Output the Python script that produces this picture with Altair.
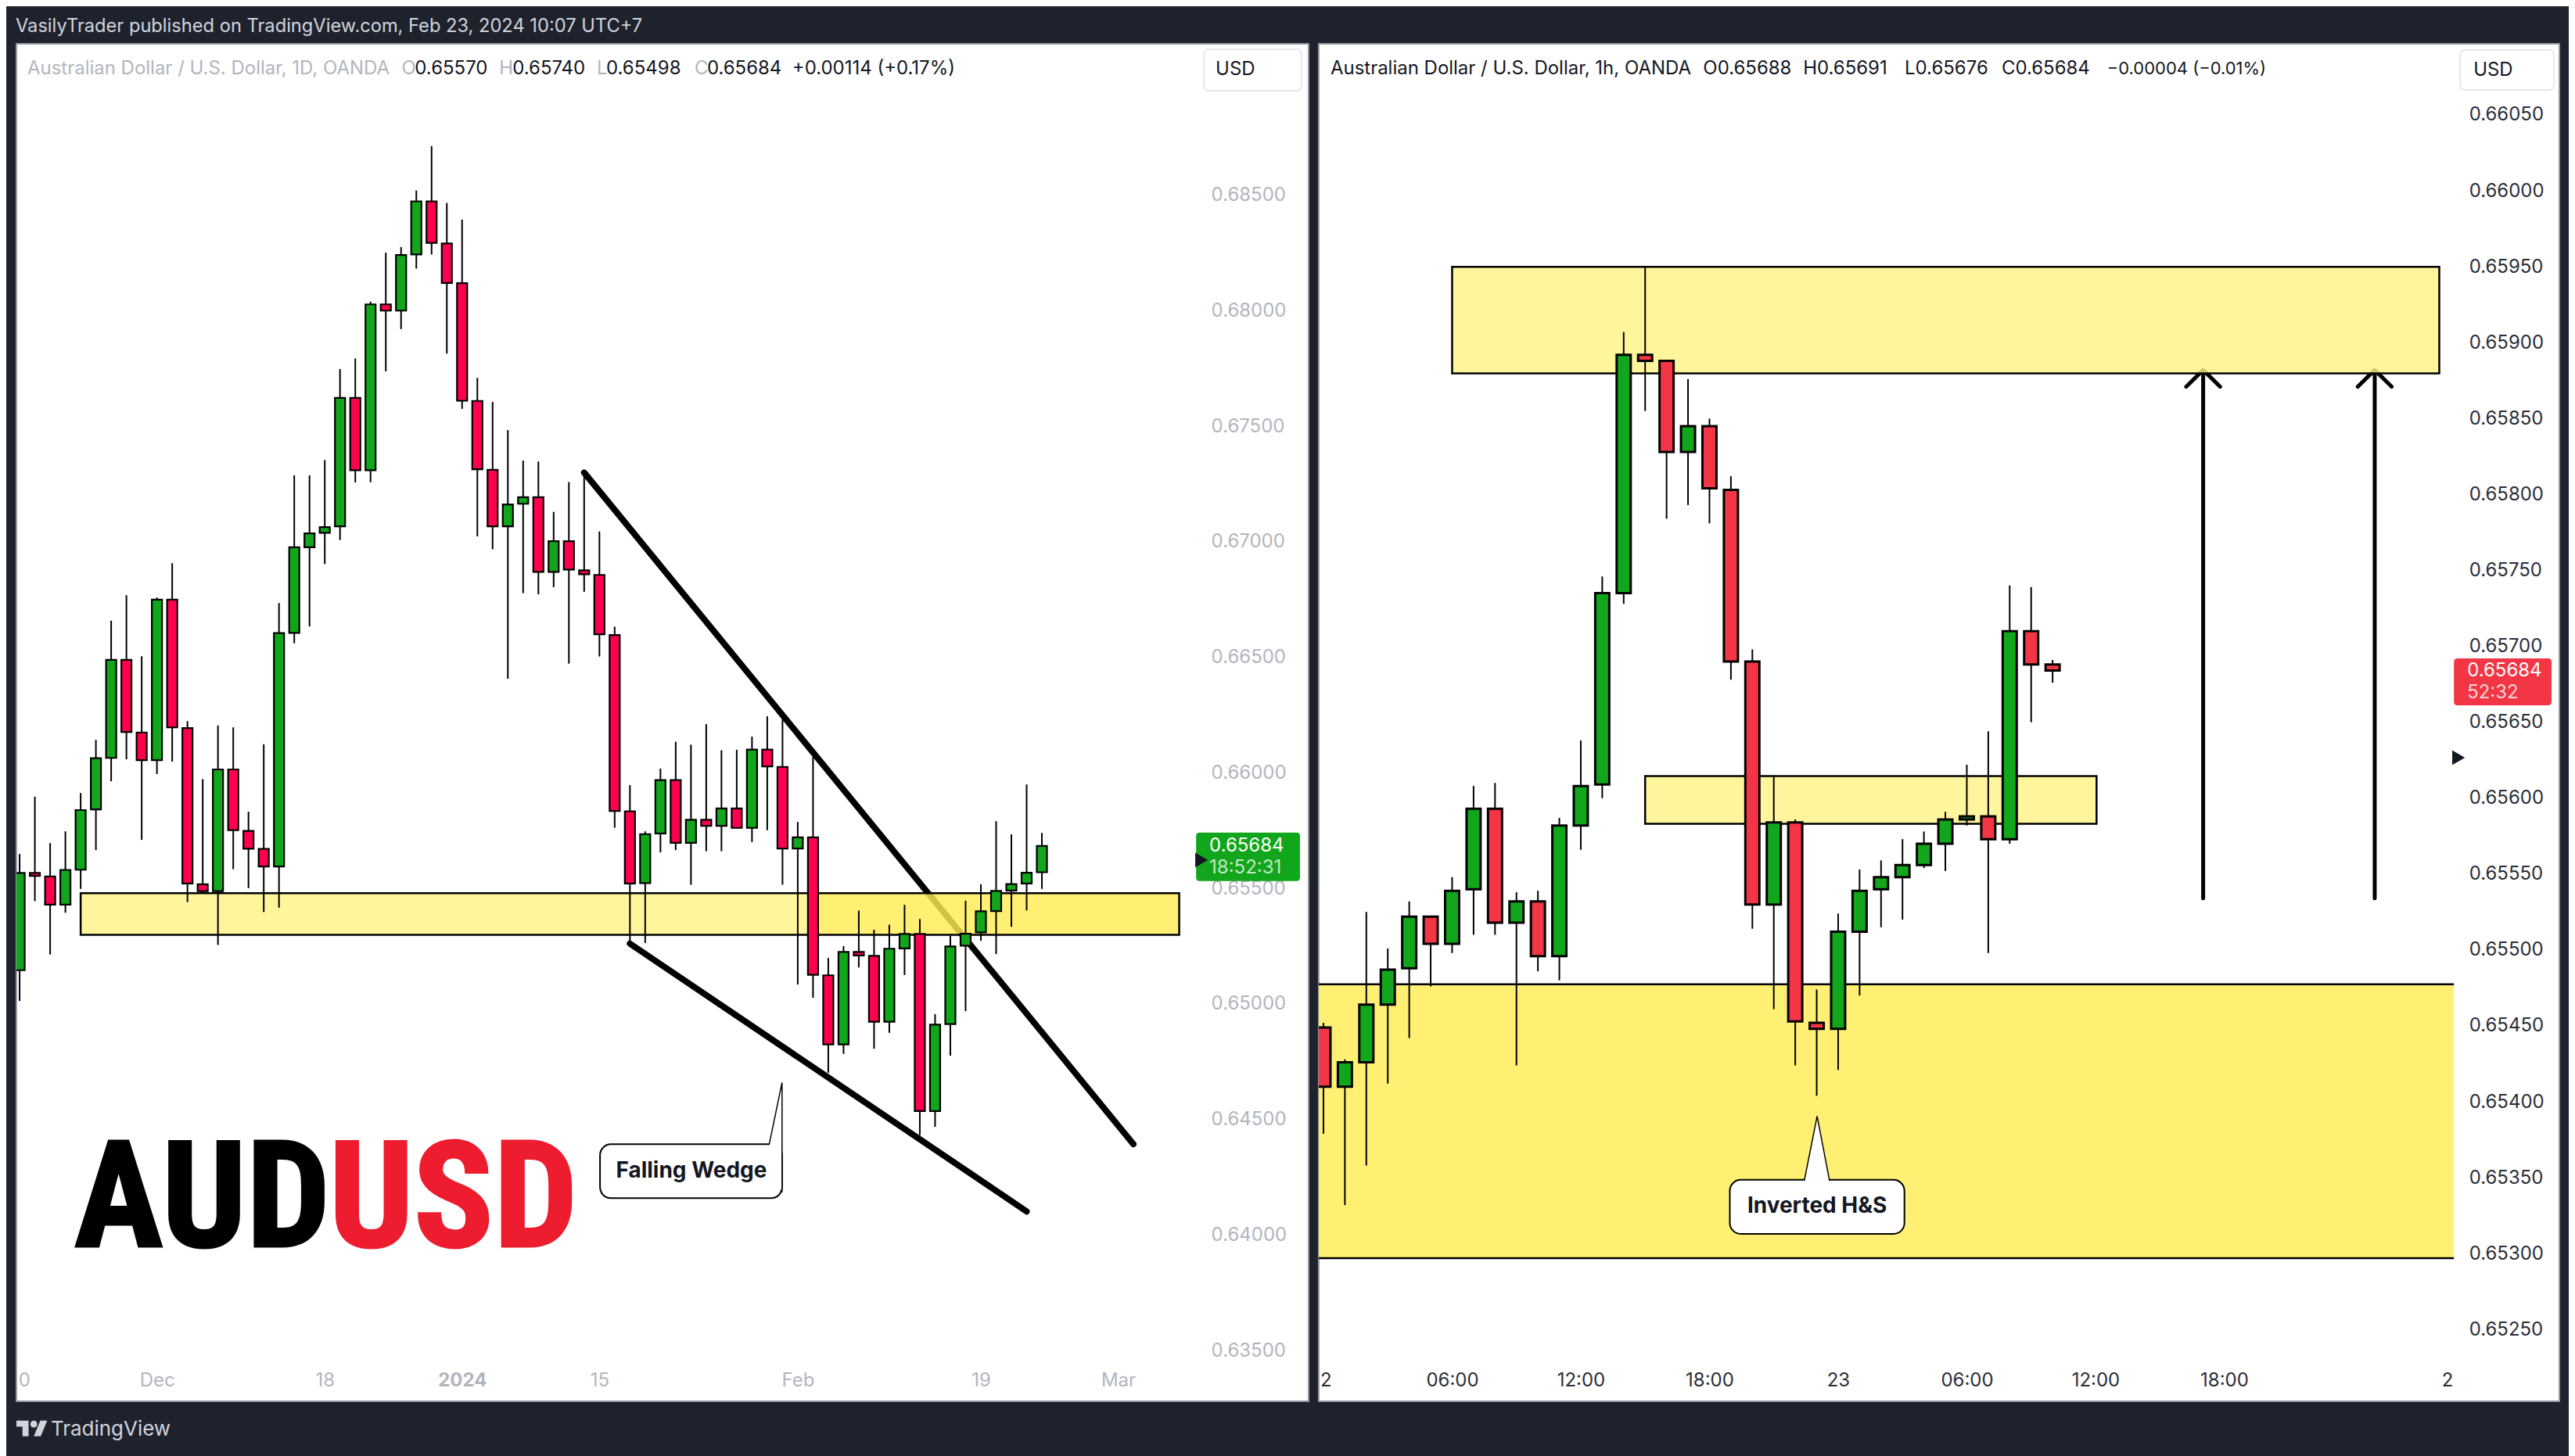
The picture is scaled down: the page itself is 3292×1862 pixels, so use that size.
import altair as alt
import pandas as pd

# daily candles
d_open = [0.65146, 0.65567, 0.65552, 0.65430, 0.65581, 0.65842, 0.66065, 0.66489, 0.66175, 0.66055,
          0.66750, 0.66194, 0.65518, 0.65488, 0.66015, 0.65749, 0.65671, 0.65595, 0.66606, 0.66977,
          0.67039, 0.67067, 0.67623, 0.67310, 0.68028, 0.68001, 0.68244, 0.68474, 0.68292, 0.68120,
          0.67610, 0.67312, 0.67067, 0.67165, 0.67193, 0.66870, 0.67003, 0.66877, 0.66857, 0.66597,
          0.65834, 0.65523, 0.65738, 0.65969, 0.65697, 0.65797, 0.65771, 0.65846, 0.65762, 0.66101,
          0.66026, 0.65673, 0.65721, 0.65124, 0.64825, 0.65225, 0.65208, 0.64923, 0.65240, 0.65303,
          0.64536, 0.64913, 0.65252, 0.65310, 0.65402, 0.65491, 0.65521, 0.65570]
d_high = [0.65649, 0.65897, 0.65696, 0.65747, 0.65913, 0.66143, 0.66659, 0.66769, 0.66505, 0.66759,
          0.66908, 0.66224, 0.65973, 0.66205, 0.66197, 0.65832, 0.66124, 0.66735, 0.67288, 0.67288,
          0.67354, 0.67748, 0.67794, 0.68040, 0.68252, 0.68276, 0.68521, 0.68713, 0.68467, 0.68395,
          0.67710, 0.67606, 0.67484, 0.67352, 0.67348, 0.67130, 0.67259, 0.67293, 0.67045, 0.66633,
          0.65947, 0.65747, 0.66019, 0.66135, 0.66122, 0.66211, 0.66098, 0.66100, 0.66157, 0.66245,
          0.66232, 0.65788, 0.66068, 0.65199, 0.65250, 0.65404, 0.65321, 0.65343, 0.65429, 0.65368,
          0.64956, 0.65296, 0.65447, 0.65518, 0.65791, 0.65734, 0.65950, 0.65740]
d_low = [0.65013, 0.65445, 0.65214, 0.65395, 0.65498, 0.65666, 0.65964, 0.66059, 0.65710, 0.65995,
         0.66049, 0.65441, 0.65477, 0.65255, 0.65583, 0.65501, 0.65398, 0.65417, 0.66561, 0.66634,
         0.66904, 0.67008, 0.67257, 0.67258, 0.67738, 0.67921, 0.68183, 0.68244, 0.67815, 0.67576,
         0.67024, 0.66968, 0.66408, 0.66778, 0.66773, 0.66804, 0.66473, 0.66784, 0.66504, 0.65763,
         0.65262, 0.65264, 0.65656, 0.65666, 0.65516, 0.65661, 0.65661, 0.65762, 0.65701, 0.65752,
         0.65516, 0.65084, 0.65027, 0.64702, 0.64784, 0.65158, 0.64806, 0.64875, 0.65125, 0.64432,
         0.64468, 0.64776, 0.64969, 0.65273, 0.65216, 0.65334, 0.65405, 0.65498]
d_close = [0.65567, 0.65554, 0.65430, 0.65580, 0.65839, 0.66064, 0.66489, 0.66177, 0.66055, 0.66750,
           0.66197, 0.65521, 0.65488, 0.66015, 0.65752, 0.65672, 0.65595, 0.66605, 0.66977, 0.67037,
           0.67064, 0.67623, 0.67310, 0.68028, 0.68001, 0.68242, 0.68474, 0.68294, 0.68121, 0.67611,
           0.67314, 0.67067, 0.67162, 0.67193, 0.66870, 0.67003, 0.66880, 0.66860, 0.66600, 0.65835,
           0.65521, 0.65735, 0.65969, 0.65697, 0.65797, 0.65771, 0.65846, 0.65762, 0.66101, 0.66028,
           0.65673, 0.65721, 0.65126, 0.64825, 0.65225, 0.65210, 0.64923, 0.65239, 0.65303, 0.64536,
           0.64910, 0.65249, 0.65304, 0.65401, 0.65489, 0.65519, 0.65568, 0.65684]

# hourly candles
h_open = [0.65449, 0.65410, 0.65426, 0.65464, 0.65488, 0.65522, 0.65504, 0.65540, 0.65593, 0.65518,
          0.65532, 0.65496, 0.65582, 0.65609, 0.65735, 0.65892, 0.65888, 0.65828, 0.65845, 0.65803,
          0.65690, 0.65530, 0.65584, 0.65452, 0.65448, 0.65512, 0.65540, 0.65548, 0.65556, 0.65570,
          0.65586, 0.65588, 0.65573, 0.65710, 0.65688]
h_high = [0.65452, 0.65428, 0.65525, 0.65501, 0.65532, 0.65522, 0.65548, 0.65608, 0.65610, 0.65538,
          0.65539, 0.65587, 0.65638, 0.65746, 0.65907, 0.65950, 0.65888, 0.65876, 0.65850, 0.65812,
          0.65698, 0.65615, 0.65586, 0.65474, 0.65524, 0.65553, 0.65559, 0.65573, 0.65578, 0.65591,
          0.65622, 0.65644, 0.65740, 0.65739, 0.65691]
h_low = [0.65379, 0.65332, 0.65358, 0.65412, 0.65442, 0.65476, 0.65498, 0.65510, 0.65510, 0.65424,
         0.65486, 0.65480, 0.65566, 0.65600, 0.65728, 0.65855, 0.65784, 0.65793, 0.65781, 0.65678,
         0.65514, 0.65461, 0.65424, 0.65404, 0.65421, 0.65470, 0.65515, 0.65520, 0.65554, 0.65552,
         0.65582, 0.65498, 0.65570, 0.65650, 0.65676]
h_close = [0.65410, 0.65426, 0.65464, 0.65487, 0.65522, 0.65504, 0.65539, 0.65593, 0.65518, 0.65532,
           0.65496, 0.65582, 0.65608, 0.65735, 0.65892, 0.65888, 0.65828, 0.65845, 0.65804, 0.65690,
           0.65530, 0.65584, 0.65453, 0.65448, 0.65512, 0.65539, 0.65548, 0.65556, 0.65570, 0.65586,
           0.65588, 0.65573, 0.65710, 0.65688, 0.65684]

d_ticks = [0.635, 0.64, 0.645, 0.65, 0.655, 0.66, 0.665, 0.67, 0.675, 0.68, 0.685]
h_ticks = [0.6525, 0.653, 0.6535, 0.654, 0.6545, 0.655, 0.6555, 0.656, 0.6565, 0.657, 0.6575,
           0.658, 0.6585, 0.659, 0.6595, 0.66, 0.6605]
d_time_pos = [0.3, 9, 20, 29, 38, 51, 63, 72]
d_time_txt = ["0", "Dec", "18", "2024", "15", "Feb", "19", "Mar"]
h_time_pos = [0.1, 6, 12, 18, 24, 30, 36, 42, 52.4]
h_time_txt = ["2", "06:00", "12:00", "18:00", "23", "06:00", "12:00", "18:00", "2"]

# drawings: bar index + price
wedge = pd.DataFrame({
    "line": ["upper", "upper", "lower", "lower"],
    "i": [37, 73, 40, 66],
    "p": [0.67300, 0.64393, 0.65261, 0.64102],
})
arrows = pd.DataFrame({
    "line": ["a"] * 5 + ["b"] * 5,
    "n": [0, 1, 2, 3, 4] * 2,
    "i": [41.02, 41.02, 40.23, 41.02, 41.81, 49.02, 49.02, 48.23, 49.02, 49.81],
    "p": [0.65534, 0.65882, 0.65871, 0.65882, 0.65871] * 2,
})

BG = "#1e222d"
LIGHT = "#fff387"
DEEP = "#ffed55"
GREEN = "#11a61b"
D_RED = "#ff004f"
H_RED = "#f23645"
AXIS_D = "#b2b5be"
AXIS_H = "#2a2e39"
INK = "#131722"
FONT = "Inter"
LOGO_FONT = "Roboto Condensed, Liberation Sans"

D_ORIGIN = (20, 54)
H_ORIGIN = (1683, 54)
PANE_H = 1738
one = pd.DataFrame({"t": [""]})


def x_enc(field, pane):
    return alt.X(field, scale=pane["x_scale"], axis=pane["x_axis"], title=None)


def y_enc(field, pane):
    return alt.Y(field, scale=pane["y_scale"], axis=pane["y_axis"], title=None)


def candles(o, h, l, c, red, size, stroke, pane):
    df = pd.DataFrame({"i": range(len(o)), "o": o, "h": h, "l": l, "c": c})
    df["dir"] = ["up" if b >= a else "down" for a, b in zip(o, c)]
    wicks = alt.Chart(df).mark_rule(color="black", strokeWidth=2, clip=True).encode(
        x=x_enc("i:Q", pane), y=y_enc("l:Q", pane), y2="h:Q",
    )
    bodies = alt.Chart(df).mark_bar(size=size, stroke="black", strokeWidth=stroke, clip=True).encode(
        x=x_enc("i:Q", pane),
        y=y_enc("o:Q", pane),
        y2="c:Q",
        color=alt.Color("dir:N", scale=alt.Scale(domain=["up", "down"], range=[GREEN, red]), legend=None),
    )
    return [wicks, bodies]


def zone(x1, x2, low, high, fill, pane, border=True):
    df = pd.DataFrame({"x1": [x1], "x2": [x2], "low": [low], "high": [high]})
    kw = {"stroke": "black", "strokeWidth": 2.5} if border else {}
    return alt.Chart(df).mark_rect(fill=fill, fillOpacity=0.82, clip=True, **kw).encode(
        x=x_enc("x1:Q", pane), x2="x2:Q", y=y_enc("low:Q", pane), y2="high:Q",
    )


def callout(x1, x2, low, high, tip, text, tx, ty, pane):
    box = alt.Chart(pd.DataFrame({"x1": [x1], "x2": [x2], "low": [low], "high": [high]})).mark_rect(
        fill="white", stroke="black", strokeWidth=2, cornerRadius=14
    ).encode(x=x_enc("x1:Q", pane), x2="x2:Q", y=y_enc("low:Q", pane), y2="high:Q")
    point = alt.Chart(pd.DataFrame(tip)).mark_line(fill="white", stroke="black", strokeWidth=1.5).encode(
        x=x_enc("i:Q", pane), y=y_enc("p:Q", pane), order="n:Q",
    )
    word = alt.Chart(pd.DataFrame({"i": [tx], "p": [ty], "t": [text]})).mark_text(
        font=FONT, fontSize=28, fontWeight="bold", color=INK
    ).encode(x=x_enc("i:Q", pane), y=y_enc("p:Q", pane), text="t:N")
    return [box, point, word]


def text(s, x, y, origin, color, size=24, weight="normal", align="left", **kw):
    return alt.Chart(pd.DataFrame({"t": [s]})).mark_text(
        font=kw.pop("font", FONT), fontSize=size, fontWeight=weight, color=color,
        align=align, baseline="middle", **kw
    ).encode(x=alt.value(x - origin[0] - 2), y=alt.value(y - origin[1]), text="t:N")


def box(x1, y1, x2, y2, origin, fill, stroke="transparent", radius=6):
    return alt.Chart(one).mark_rect(fill=fill, stroke=stroke, strokeWidth=2, cornerRadius=radius).encode(
        x=alt.value(x1 - origin[0]), x2=alt.value(x2 - origin[0]),
        y=alt.value(y1 - origin[1]), y2=alt.value(y2 - origin[1]),
    )


def notch(x, y, origin):
    return alt.Chart(one).mark_point(shape="triangle-right", filled=True, size=350, color=INK, opacity=1).encode(
        x=alt.value(x - origin[0]), y=alt.value(y - origin[1])
    )


def time_labels(pos, txt):
    return f"{txt}[indexof({pos}, datum.value)]"


# left pane, 1D
d_pane = {
    "x_scale": alt.Scale(domain=[-0.21, 84.48], nice=False, zero=False, padding=0),
    "y_scale": alt.Scale(domain=[0.632803, 0.691558], nice=False, zero=False),
    "x_axis": alt.Axis(
        values=d_time_pos, labelExpr=time_labels(d_time_pos, d_time_txt), orient="bottom", offset=-38,
        domain=False, ticks=False, grid=False, labelPadding=0, labelFont=FONT, labelFontSize=24,
        labelColor=AXIS_D, labelOverlap=False, labelBaseline="top",
        labelFontWeight={"condition": {"test": "datum.value == 29", "value": "bold"}, "value": "normal"},
    ),
    "y_axis": alt.Axis(
        values=d_ticks, format=".5f", orient="right", offset=-125, domain=False, ticks=False, grid=False,
        labelPadding=0, labelFont=FONT, labelFontSize=24, labelColor=AXIS_D, labelOverlap=False, labelAlign="left",
    ),
}
d_lines = alt.Chart(wedge).mark_line(color="black", strokeWidth=8, strokeCap="round").encode(
    x=x_enc("i:Q", d_pane), y=y_enc("p:Q", d_pane), detail="line:N",
)
d_tip = {"n": [0, 1, 2], "i": [49.12, 49.97, 49.97], "p": [0.64390, 0.64660, 0.64185]}

o = D_ORIGIN
d_layers = [
    d_lines,
    zone(4, 52, 0.65299, 0.65479, LIGHT, d_pane),
    zone(52, 76, 0.65299, 0.65479, DEEP, d_pane),
    *candles(d_open, d_high, d_low, d_close, D_RED, 13, 2.2, d_pane),
    *callout(38.04, 49.97, 0.641592, 0.643925, d_tip, "Falling Wedge", 44.03, 0.642742, d_pane),
    text("AUD", 96, 1537, o, "black", size=190, weight="bold", font=LOGO_FONT, stroke="black", strokeWidth=3),
    text("USD", 422, 1537, o, "#ed1c2e", size=190, weight="bold", font=LOGO_FONT, stroke="#ed1c2e", strokeWidth=3),
    text("VasilyTrader published on TradingView.com, Feb 23, 2024 10:07 UTC+7", 21, 32, o, "#d1d4dc", size=23.7),
    text("TradingView", 66, 1828, o, "#d1d4dc", size=26),
    alt.Chart(one).mark_point(
        shape="M-0.111,0.222H-0.306V-0.083H-0.5V-0.278H-0.111ZM0.278,0.222H0.056L0.264,-0.278H0.486Z"
              "M0.167,-0.167A0.111,0.111 0 1 1 -0.055,-0.167A0.111,0.111 0 1 1 0.167,-0.167Z",
        filled=True, size=6400, color="#d1d4dc", opacity=1,
    ).encode(x=alt.value(40 - o[0]), y=alt.value(1828 - o[1])),
    text("Australian Dollar / U.S. Dollar, 1D, OANDA", 36, 86, o, AXIS_D),
    text("O", 515, 86, o, AXIS_D),
    text("0.65570", 532, 86, o, INK),
    text("H", 640, 86, o, AXIS_D),
    text("0.65740", 657, 86, o, INK),
    text("L", 765, 86, o, AXIS_D),
    text("0.65498", 777, 86, o, INK),
    text("C", 890, 86, o, AXIS_D),
    text("0.65684", 906, 86, o, INK),
    text("+0.00114 (+0.17%)", 1015, 86, o, INK),
    box(1540, 61, 1665, 114, o, "white", "#e6e8ee"),
    text("USD", 1557, 87, o, INK),
    box(1530, 1064, 1663, 1126, o, GREEN, radius=4),
    notch(1537, 1099, o),
    text("0.65684", 1549, 1081, o, "white"),
    text("18:52:31", 1549, 1109, o, "#c3e8c6"),
]
left = alt.layer(*d_layers).properties(width=1654, height=PANE_H)

# right pane, 1h
h_pane = {
    "x_scale": alt.Scale(domain=[-0.219, 57.63], nice=False, zero=False, padding=0),
    "y_scale": alt.Scale(domain=[0.652028, 0.660968], nice=False, zero=False),
    "x_axis": alt.Axis(
        values=h_time_pos, labelExpr=time_labels(h_time_pos, h_time_txt), orient="bottom", offset=-38,
        domain=False, ticks=False, grid=False, labelPadding=0, labelFont=FONT, labelFontSize=24,
        labelColor=AXIS_H, labelOverlap=False, labelBaseline="top",
    ),
    "y_axis": alt.Axis(
        values=h_ticks, format=".5f", orient="right", offset=-116, domain=False, ticks=False, grid=False,
        labelPadding=0, labelFont=FONT, labelFontSize=24, labelColor=AXIS_H, labelOverlap=False, labelAlign="left",
    ),
}
h_arrows = alt.Chart(arrows).mark_line(color="black", strokeWidth=5, strokeCap="round", strokeJoin="round").encode(
    x=x_enc("i:Q", h_pane), y=y_enc("p:Q", h_pane), detail="line:N", order="n:Q",
)
h_edges = alt.Chart(pd.DataFrame({"x1": [-0.22, -0.22], "x2": [52.71, 52.71], "p": [0.65297, 0.654774]})).mark_rule(
    color="black", strokeWidth=2.5
).encode(x=x_enc("x1:Q", h_pane), x2="x2:Q", y=y_enc("p:Q", h_pane))
h_tip = {"n": [0, 1, 2], "i": [22.42, 23.02, 23.6], "p": [0.65348, 0.653906, 0.65348]}

o = H_ORIGIN
h_layers = [
    h_arrows,
    zone(6, 52.03, 0.658798, 0.659499, LIGHT, h_pane),
    zone(15, 36.05, 0.655831, 0.656145, LIGHT, h_pane),
    zone(-0.22, 52.71, 0.65297, 0.654774, DEEP, h_pane, border=False),
    h_edges,
    *candles(h_open, h_high, h_low, h_close, H_RED, 18, 3, h_pane),
    *callout(18.95, 27.09, 0.65313, 0.653486, h_tip, "Inverted H&S", 23.02, 0.653309, h_pane),
    text("Australian Dollar / U.S. Dollar, 1h, OANDA", 1700, 86, o, INK),
    text("O0.65688", 2177, 86, o, INK),
    text("H0.65691", 2305, 86, o, INK),
    text("L0.65676", 2435, 86, o, INK),
    text("C0.65684", 2559, 86, o, INK),
    text("\u22120.00004 (\u22120.01%)", 2694, 86, o, INK, size=22),
    box(3144, 62, 3264, 113, o, "white", "#e6e8ee"),
    text("USD", 3163, 88, o, INK),
    box(3136, 841, 3261, 901, o, H_RED, radius=4),
    text("0.65684", 3155, 857, o, "white"),
    text("52:32", 3155, 885, o, "#fcd3d7"),
    notch(3142, 968, o),
]
right = alt.layer(*h_layers).properties(width=1588, height=PANE_H)

chart = alt.hconcat(left, right, spacing=9).resolve_scale(color="independent").configure_view(
    fill="white", stroke="#9598a1", strokeWidth=2
).properties(
    background=BG,
    padding={"left": 11, "top": 12, "right": 11, "bottom": 20},
)
chart.save("out.html", embed_options={"renderer": "svg", "actions": False})
